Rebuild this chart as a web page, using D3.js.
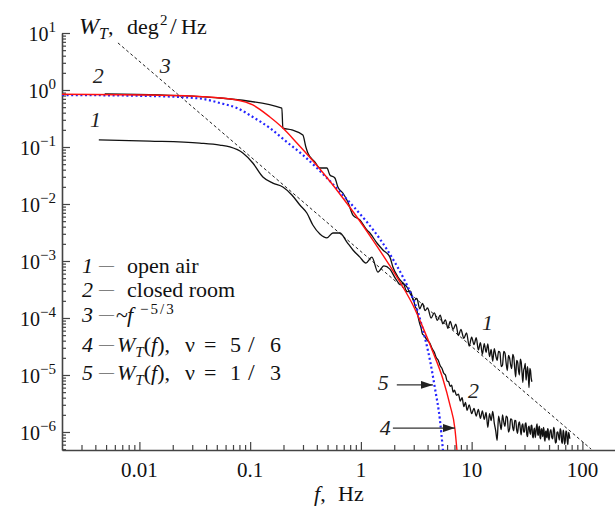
<!DOCTYPE html>
<html>
<head>
<meta charset="utf-8">
<script src="https://cdn.jsdelivr.net/npm/d3@7"></script>
<style>
body { margin: 0; background: #fff; }
svg { display: block; }
</style>
</head>
<body>
<script>
// f in Hz, W_T in deg^2/Hz
var openAir = [
	[0.0043,0.133],[0.0124,0.127],[0.0351,0.117],[0.0532,0.108],[0.0656,0.100],[0.0859,0.0785],
	[0.1057,0.0524],[0.1303,0.0298],[0.1603,0.0233],[0.1974,0.0199],[0.2381,0.0144],[0.2812,0.0096],
	[0.3251,0.00695],[0.3681,0.00428],[0.4262,0.00298],[0.4932,0.00254],[0.5585,0.0031],[0.6457,0.0031],
	[0.7474,0.00215],[0.8472,0.00156],[0.9794,0.00117],[1.109,9.2e-4],[1.256,1.17e-3],[1.425,6.4e-4],
	[1.613,8.2e-4],[1.828,7.2e-4],[2.07,4.8e-4],[2.30,3.8e-4],
	[2.4,4.1e-4],[2.6,2.9e-4],[2.8,2.95e-4],[3.0,2.0e-4],[3.2,2.2e-4],[3.4,1.45e-4],[3.6,1.8e-4],
	[3.8,1.35e-4],[4.0,1.5e-4],[4.3,1.0e-4],[4.6,1.23e-4],[4.9,9.1e-5],[5.2,1.12e-4],[5.5,7.9e-5],
	[5.8,9.3e-5],[6.1,6.6e-5],[6.4,8.7e-5],[6.8,6.3e-5],[7.2,7.8e-5],[7.6,4.9e-5],[8.0,6.3e-5],
	[8.5,4.4e-5],[9.0,5.5e-5],[9.5,3.2e-5],[10,4.6e-5],[10.5,3.4e-5],[11,4.5e-5],[11.5,2.75e-5],
	[12,3.7e-5],[12.5,2.3e-5],[13,3.55e-5],[13.5,2.5e-5],[14,3.5e-5],[14.5,2.1e-5],[15,2.8e-5],
	[15.5,1.75e-5],[16,2.9e-5],[16.5,2.2e-5],[17,1.8e-5],[17.5,2.6e-5],[18,2.5e-5],[18.5,1.4e-5],
	[19,1.5e-5],[19.5,2.6e-5],[20,2.4e-5],[20.5,1.6e-5],[21,1.2e-5],[21.5,2.2e-5],[22,2.0e-5],
	[22.5,1.5e-5],[23,1.3e-5],[23.5,2.3e-5],[24,2.05e-5],[24.5,1.3e-5],[25,9.3e-6],[25.5,1.8e-5],
	[26,1.7e-5],[26.5,1.2e-5],[27,1.0e-5],[27.5,1.9e-5],[28,1.7e-5],[28.5,1.1e-5],[29,7.4e-6],
	[29.5,1.2e-5],[30,1.35e-5],[30.5,1.6e-5],[31,8.1e-6],[31.5,1.1e-5],[32,1.4e-5],[32.5,9.5e-6],
	[33,6.0e-6],[33.5,1.3e-5],[34,1.2e-5],[34.5,8.8e-6],[35,7.6e-6]
];

var closedRoom = [
	[0.00486,0.851],[0.0153,0.817],[0.0532,0.724],[0.1933,0.483],[0.1974,0.215],[0.2381,0.199],
	[0.2992,0.162],[0.3185,0.100],[0.3319,0.0785],[0.3837,0.0546],[0.4262,0.0428],[0.4932,0.0428],
	[0.5248,0.0323],[0.5821,0.0286],[0.6194,0.0199],[0.6871,0.0156],[0.7631,0.0108],[0.8472,0.0064],
	[0.9794,0.00524],[1.133,0.0035],[1.206,0.0031],[1.395,0.00207],[1.580,0.00156],[1.828,0.00117],
	[1.945,7.85e-4],[2.159,5.24e-4],[2.395,4.1e-4],[2.604,3.5e-4],[2.771,2.75e-4],
	[3.0,2.0e-4],[3.1,1.58e-4],[3.2,1.38e-4],[3.3,1.0e-4],[3.4,7.9e-5],[3.5,6.6e-5],[3.6,5.2e-5],
	[3.7,5.0e-5],[3.8,4.6e-5],[4.0,4.0e-5],[4.2,3.6e-5],[4.4,2.9e-5],[4.6,2.5e-5],[4.8,2.0e-5],
	[5.0,1.8e-5],[5.2,1.45e-5],[5.4,1.3e-5],[5.6,1.07e-5],[5.8,1.0e-5],[6.0,7.9e-6],[6.2,7.6e-6],
	[6.4,6.3e-6],[6.6,6.6e-6],[6.8,5.0e-6],[7.0,5.4e-6],[7.3,4.4e-6],[7.6,4.6e-6],[7.9,3.5e-6],
	[8.2,4.0e-6],[8.5,2.8e-6],[8.8,3.3e-6],[9.1,2.4e-6],[9.5,3.0e-6],[10,2.1e-6],[10.5,2.6e-6],
	[11,1.9e-6],[11.5,2.5e-6],[12,1.74e-6],[12.5,2.35e-6],[13,1.66e-6],[13.5,2.2e-6],[14,1.2e-6],
	[14.5,2.1e-6],[15,1.58e-6],[15.5,2.3e-6],[16,1.45e-6],[16.5,1.05e-6],[17,7.1e-7],[17.5,1.9e-6],
	[18,1.45e-6],[18.5,1.1e-6],[19,2.0e-6],[19.5,1.5e-6],[20,1.26e-6],[20.5,1.9e-6],[21,1.8e-6],
	[21.5,1.0e-6],[22,1.12e-6],[22.5,1.7e-6],[23,1.66e-6],[23.5,1.2e-6],[24,1.05e-6],[24.5,1.6e-6],
	[25,1.58e-6],[25.5,1.1e-6],[26,9.5e-7],[26.5,1.35e-6],[27,1.5e-6],[27.5,1.15e-6],[28,8.9e-7],
	[28.5,1.3e-6],[29,1.38e-6],[29.5,1.0e-6],[30,1.0e-6],[30.5,1.4e-6],[31,1.45e-6],[31.5,9.0e-7],
	[32,8.3e-7],[32.5,1.2e-6],[33,1.26e-6],[33.5,1.0e-6],[34,9.1e-7],[34.5,1.3e-6],[35,1.32e-6],
	[35.5,8.5e-7],[36,7.9e-7],[36.5,1.1e-6],[37,1.17e-6],[37.5,8.0e-7],[38,9.5e-7],[38.5,1.25e-6],
	[39,1.38e-6],[39.5,9.2e-7],[40,8.7e-7],[40.5,1.2e-6],[41,1.26e-6],[41.5,8.0e-7],[42,7.6e-7],
	[42.5,1.1e-6],[43,1.15e-6],[43.5,9.0e-7],[44,8.3e-7],[44.5,1.2e-6],[45,1.1e-6],[45.5,7.5e-7],
	[46,6.9e-7],[46.5,1.0e-6],[47,1.05e-6],[47.5,8.2e-7],[48,7.9e-7],[48.5,1.15e-6],[49,1.12e-6],
	[49.5,8.0e-7],[50,7.2e-7],[51,1.0e-6],[52,1.1e-6],[53,8.0e-7],[54,7.6e-7],[55,1.2e-6],
	[56,1.05e-6],[57,6.4e-7],[58,6.6e-7],[59,9.8e-7],[60,1.0e-6],[61,8.3e-7],[62,7.2e-7],
	[63,1.15e-6],[64,1.05e-6],[65,6.8e-7],[66,6.3e-7],[67,1.08e-6],[68,9.5e-7],[69,6.1e-7],
	[70,6.9e-7],[71,1.05e-6],[72,1.0e-6],[73,7.0e-7],[74,6.0e-7],[75,9.8e-7],[76,9.1e-7],[77,7.6e-7]
];

// ~ f^-5/3
var kolmogorov = [[0.0064,6.7],[120,5.0e-7]];

// W_T(f), nu = 5/6 (red)
var model56 = [
	[0.002,0.84],[0.0124,0.817],[0.0351,0.769],[0.0759,0.668],[0.1057,0.546],[0.1507,0.336],
	[0.1974,0.215],[0.2642,0.1175],[0.3251,0.0754],[0.4262,0.0411],[0.5585,0.0215],[0.6871,0.01274],
	[0.9205,0.00592],[1.283,0.00233],[1.828,8.17e-4],[2.395,3.5e-4],[2.949,1.69e-4],[3.558,7.5e-5],
	[4.469,2.53e-5],[5.504,8.5e-6],[6.368,2.98e-6],[7.066,1.13e-6],[7.364,4.83e-7]
];

// W_T(f), nu = 1/3 (blue)
var model13 = [
	[0.002,0.817],[0.0124,0.785],[0.0351,0.709],[0.0532,0.592],[0.0759,0.483],[0.1057,0.336],
	[0.1507,0.215],[0.2147,0.122],[0.2992,0.0724],[0.4005,0.0428],[0.5248,0.0253],[0.6871,0.0144],
	[0.8472,0.00923],[1.133,0.00483],[1.485,0.00243],[1.945,0.00108],[2.395,5.24e-4],[2.889,2.43e-4],
	[3.274,1.27e-4],[3.632,6.15e-5],[4.200,1.83e-5],[4.659,5.9e-6],[5.171,1.63e-6],[5.504,4.83e-7]
];

var xTickValues = [0.01, 0.1, 1, 10, 100];
var xTickLabels = ["0.01", "0.1", "1", "10", "100"];
var yTickExponents = [-6, -5, -4, -3, -2, -1, 0, 1];

// curve numbers placed in data units [f, W, text]
var curveLabels = [
	[0.0038, 1.33, "2"], [0.00358, 0.224, "1"], [0.0153, 1.99, "3"],
	[12.4, 6.2e-5, "1"], [9.26, 3.95e-6, "2"], [1.42, 5.46e-6, "5"], [1.48, 8.9e-7, "4"]
];
// arrows [fFrom, fTo, W]
var arrows = [[2.11, 4.47, 6.7e-6], [1.945, 7.07, 1.17e-6]];

var width = 615;
var height = 507;
var serif = "'Liberation Serif', 'DejaVu Serif', 'Noto Serif', Tinos, FreeSerif, 'Times New Roman', Times, serif";

var svg = d3.select("body")
	.append("svg")
	.attr("width", width)
	.attr("height", height)
	.style("font-family", serif);

var x = d3.scaleLog().domain([0.002, 197]).range([62, 615]);
var y = d3.scaleLog().domain([4.83e-7, 10]).range([450, 33]);

var axisColor = "#444";

// x axis: minor then major ticks, pointing inward
var xMinor = x.ticks().filter(function(d){ return xTickValues.indexOf(d) < 0 && d > 0.0025; });
var gx = svg.append("g").attr("transform", "translate(0,450)").attr("color", axisColor);
gx.call(d3.axisBottom(x).tickValues(xMinor).tickSize(-5).tickSizeOuter(0).tickFormat(""));
gx.append("g").call(d3.axisBottom(x).tickValues(xTickValues).tickSize(-8).tickSizeOuter(0).tickFormat(""))
	.select(".domain").remove();

var yMajor = yTickExponents.map(function(e){ return Math.pow(10, e); });
var yMinor = y.ticks().filter(function(d){
	return !yMajor.some(function(m){ return Math.abs(m - d) / m < 1e-6; });
});
var gy = svg.append("g").attr("transform", "translate(62,0)").attr("color", axisColor);
gy.call(d3.axisLeft(y).tickValues(yMinor).tickSize(-4).tickSizeOuter(0).tickFormat(""));
gy.append("g").call(d3.axisLeft(y).tickValues(yMajor).tickSize(-8).tickSizeOuter(0).tickFormat(""))
	.select(".domain").remove();

svg.selectAll(".domain").attr("stroke-width", 1.6);
svg.selectAll(".tick line").attr("stroke-width", 1.2);

// rich text helper: parts with italic / sub / sup / explicit x
function rich(x0, y0, parts, size) {
	var t = svg.append("text").attr("x", x0).attr("y", y0)
		.attr("font-size", size).attr("font-family", serif).attr("fill", "#111");
	var shift = 0;
	parts.forEach(function(p){
		var s = t.append("tspan").text(p.t);
		var target = p.sup ? -p.sup : (p.sub ? p.sub : 0);
		if (target !== shift) { s.attr("dy", target - shift); shift = target; }
		if (p.x != null) s.attr("x", p.x);
		if (p.it) s.attr("font-style", "italic");
		if (p.size) s.attr("font-size", p.size);
		if (p.ls) s.attr("letter-spacing", p.ls);
	});
	return t;
}

// tick labels
xTickValues.forEach(function(v, i){
	svg.append("text")
		.attr("x", x(v))
		.attr("y", 477)
		.attr("text-anchor", "middle")
		.attr("font-size", 21)
		.attr("font-family", serif)
		.attr("fill", "#111")
		.text(xTickLabels[i]);
});

yTickExponents.forEach(function(e){
	var t = svg.append("text")
		.attr("x", 56)
		.attr("y", y(Math.pow(10, e)) + 8)
		.attr("text-anchor", "end")
		.attr("font-size", 20)
		.attr("font-family", serif)
		.attr("fill", "#111");
	t.append("tspan").text("10");
	t.append("tspan").attr("dy", -9).attr("font-size", 15).text(e < 0 ? "\u2212" + (-e) : String(e));
});

// axis titles
rich(79, 34, [
	{t: "W", it: true, size: 24},
	{t: "T", it: true, sub: 5, size: 16},
	{t: ","},
	{t: "deg", x: 127},
	{t: "2", sup: 9, size: 15, x: 160},
	{t: "/", x: 170, size: 24},
	{t: "Hz", x: 181}
], 22);

rich(314, 501, [{t: "f", it: true}, {t: ","}, {t: "Hz", x: 338}], 22);

// curves
var line = d3.line()
	.x(function(d){ return x(d[0]); })
	.y(function(d){ return y(d[1]); })
	.curve(d3.curveMonotoneX);

svg.append("path")
	.datum(kolmogorov)
	.attr("d", d3.line().x(function(d){ return x(d[0]); }).y(function(d){ return y(d[1]); }))
	.attr("fill", "none")
	.attr("stroke", "#222")
	.attr("stroke-width", 1)
	.attr("stroke-dasharray", "3,2.5");

svg.append("path").datum(openAir).attr("d", line)
	.attr("fill", "none").attr("stroke", "#111").attr("stroke-width", 1.3);

svg.append("path").datum(closedRoom).attr("d", line)
	.attr("fill", "none").attr("stroke", "#111").attr("stroke-width", 1.3);

svg.append("path").datum(model13).attr("d", line)
	.attr("fill", "none").attr("stroke", "#2424ff").attr("stroke-width", 2.2)
	.attr("stroke-dasharray", "2,2.6");

svg.append("path").datum(model56).attr("d", line)
	.attr("fill", "none").attr("stroke", "#ff1010").attr("stroke-width", 1.4);

// curve numbers
curveLabels.forEach(function(d){
	svg.append("text")
		.attr("x", x(d[0]))
		.attr("y", y(d[1]))
		.attr("font-size", 22)
		.attr("font-family", serif)
		.attr("font-style", "italic")
		.attr("fill", "#222")
		.text(d[2]);
});

// arrows
svg.append("defs").append("marker")
	.attr("id", "head")
	.attr("viewBox", "0 0 12 8")
	.attr("refX", 12).attr("refY", 4)
	.attr("markerWidth", 12).attr("markerHeight", 8)
	.attr("markerUnits", "userSpaceOnUse")
	.attr("orient", "auto")
	.append("path").attr("d", "M0,0L12,4L0,8Z").attr("fill", "#222");

arrows.forEach(function(a){
	svg.append("line")
		.attr("x1", x(a[0])).attr("x2", x(a[1]))
		.attr("y1", y(a[2])).attr("y2", y(a[2]))
		.attr("stroke", "#333").attr("stroke-width", 1.3)
		.attr("marker-end", "url(#head)");
});

// legend
var legendBase = [273, 297, 322, 352, 380];
var dash = {t: "\u2014", x: 99, size: 15, sup: 3};
rich(82, legendBase[0], [{t: "1", it: true}, dash, {t: "open air", x: 127}], 22);
rich(82, legendBase[1], [{t: "2", it: true}, dash, {t: "closed room", x: 127}], 22);
rich(82, legendBase[2], [{t: "3", it: true}, dash, {t: "~", x: 116}, {t: "f", it: true, x: 127},
	{t: "\u22125/3", sup: 8, size: 15, x: 140, ls: 2}], 22);
[["4", "5"], ["5", "1"]].forEach(function(p, i){
	var num = p[0];
	var frac = i === 0 ? ["5", "6"] : ["1", "3"];
	rich(82, legendBase[3 + i], [
		{t: num, it: true}, dash,
		{t: "W", it: true, x: 117},
		{t: "T", it: true, sub: 5, size: 15},
		{t: "("}, {t: "f", it: true}, {t: "),"},
		{t: "\u03bd", x: 185},
		{t: "=", x: 204},
		{t: frac[0], x: 230},
		{t: "/", x: 248, size: 24},
		{t: frac[1], x: 270}
	], 22);
});
</script>
</body>
</html>
